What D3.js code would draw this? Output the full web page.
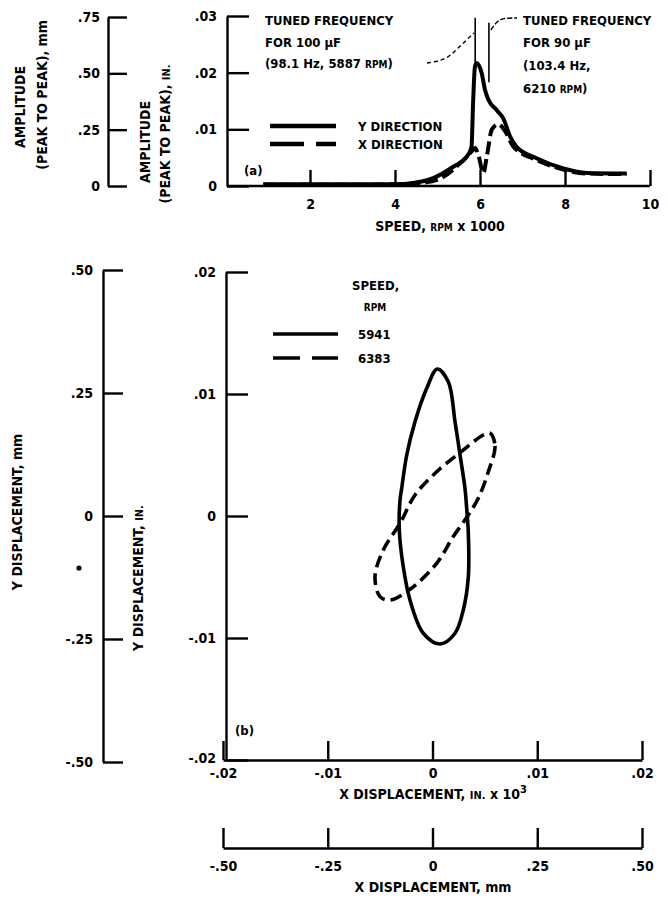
<!DOCTYPE html>
<html><head><meta charset="utf-8">
<script src="https://cdn.jsdelivr.net/npm/d3@7"></script>
<style>
body{margin:0;background:#fff}
svg text{font-family:"DejaVu Sans Condensed","DejaVu Sans",sans-serif;font-weight:bold;fill:#000;font-size:13px}
.axis path,.axis line{stroke:#000;stroke-width:2.4px;fill:none}
.axis text{font-family:"DejaVu Sans Condensed","DejaVu Sans",sans-serif;font-weight:bold;font-size:14px;fill:#000}
svg text.title{font-size:14px}
</style></head><body><svg id="c" width="668" height="899"></svg>
<script>
// ---- (a) amplitude (peak to peak, in.) against speed (rpm x 1000)
const speedY = [0.9, 2.0, 3.0, 4.0, 4.28, 4.90, 5.37, 5.69, 5.80, 5.84, 5.88, 5.92, 6.04, 6.12, 6.20, 6.39, 6.55, 6.71, 6.86, 7.33, 7.96, 8.51, 9.45];
const ampY   = [0.0003, 0.0003, 0.0003, 0.0003, 0.0004, 0.0014, 0.0034, 0.0052, 0.0069, 0.0152, 0.0210, 0.0217, 0.0199, 0.0169, 0.0152, 0.0134, 0.0119, 0.0087, 0.0069, 0.0049, 0.0031, 0.0023, 0.0022];
const speedX = [0.9, 2.0, 3.0, 4.0, 4.59, 5.06, 5.53, 5.84, 5.88, 5.96, 6.08, 6.16, 6.28, 6.43, 6.59, 6.78, 7.33, 7.96, 8.51, 9.45];
const ampX   = [0.0002, 0.0002, 0.0002, 0.0003, 0.0005, 0.0013, 0.0040, 0.0064, 0.0067, 0.0055, 0.0023, 0.0052, 0.0100, 0.0109, 0.0097, 0.0070, 0.0046, 0.0029, 0.0022, 0.0021];
const speedTicks = [2, 4, 6, 8, 10];
const ampInTicks = [0, 0.01, 0.02, 0.03];
const ampMmTicks = [0, 0.25, 0.5, 0.75];
const tunedSpeeds = [5.887, 6.21];
const tunedLineTop = [0.0297, 0.0288];
const tunedLineBottom = [0.0218, 0.0183];

// ---- (b) shaft orbits (in.)
const orbitA_x = [0.00046, 0.00151, 0.00215, 0.00263, 0.00310, 0.00326, 0.00342, 0.00342, 0.00294, 0.00215, 0.00072, -0.00088, -0.00215, -0.00279, -0.00317, -0.00310, -0.00294, -0.00246, -0.00167, -0.00055];
const orbitA_y = [0.01205, 0.01100, 0.00773, 0.00500, 0.00227, 0.00066, -0.00142, -0.00498, -0.00770, -0.00961, -0.01049, -0.00961, -0.00689, -0.00416, -0.00115, 0.00131, 0.00227, 0.00500, 0.00773, 0.01047];
const orbitB_x = [0.00549, 0.00597, 0.00533, 0.00437, 0.00329, 0.00197, 0.00040, -0.00215, -0.00406, -0.00501, -0.00549, -0.00470, -0.00310, -0.00167, 0.00040, 0.00263, 0.00485];
const orbitB_y = [0.00680, 0.00574, 0.00363, 0.00145, -0.00008, -0.00170, -0.00388, -0.00601, -0.00689, -0.00661, -0.00498, -0.00279, -0.00060, 0.00172, 0.00363, 0.00520, 0.00664];
const dispInTicks = [-0.02, -0.01, 0, 0.01, 0.02];
const dispMmTicks = [-0.5, -0.25, 0, 0.25, 0.5];

const svg = d3.select("#c");
// ".01", "-.25", "0" style tick labels
const fmt = d => d === 0 ? "0" : d3.format(".2f")(Math.abs(d)).replace(/^0\./, d < 0 ? "-." : ".");

// ================= panel (a) =================
const xA = d3.scaleLinear().domain([0, 10]).range([225, 650]);
const yA = d3.scaleLinear().domain([0, 0.03]).range([186, 16]);
const yAmm = d3.scaleLinear().domain([0, 0.75]).range([186, 17]);

// inch amplitude axis: ticks inside, labels outside
svg.append("g").attr("class", "axis").attr("transform", "translate(227,0)")
  .call(d3.axisRight(yA).tickValues(ampInTicks).tickSizeInner(22).tickSizeOuter(0).tickFormat(""));
svg.append("g").attr("class", "axis").attr("transform", "translate(227,0)")
  .call(d3.axisLeft(yA).tickValues(ampInTicks).tickSize(0).tickPadding(10).tickFormat(fmt))
  .call(g => g.select(".domain").remove());
// mm amplitude axis
svg.append("g").attr("class", "axis").attr("transform", "translate(108,0)")
  .call(d3.axisRight(yAmm).tickValues(ampMmTicks).tickSizeInner(19).tickSizeOuter(0).tickFormat(""));
svg.append("g").attr("class", "axis").attr("transform", "translate(108,0)")
  .call(d3.axisLeft(yAmm).tickValues(ampMmTicks).tickSize(0).tickPadding(8).tickFormat(fmt))
  .call(g => g.select(".domain").remove());
// speed axis
svg.append("g").attr("class", "axis").attr("transform", "translate(0,186)")
  .call(d3.axisBottom(xA).tickValues(speedTicks).tickSizeInner(-16).tickSizeOuter(0).tickPadding(13).tickFormat(d3.format("d")))
  .call(g => g.select(".domain").attr("d", `M227,0H${xA(10)}`));

const lineA = d3.line().x(d => xA(d[0])).y(d => yA(d[1])).curve(d3.curveMonotoneX);
svg.append("path").datum(d3.zip(speedY, ampY)).attr("d", lineA)
  .attr("fill", "none").attr("stroke", "#000").attr("stroke-width", 4).attr("stroke-linejoin", "round");
svg.append("path").datum(d3.zip(speedX, ampX)).attr("d", lineA)
  .attr("fill", "none").attr("stroke", "#000").attr("stroke-width", 4).attr("stroke-dasharray", "13,5");

// tuned-frequency markers
tunedSpeeds.forEach((s, i) => {
  svg.append("line").attr("x1", xA(s)).attr("x2", xA(s))
    .attr("y1", yA(tunedLineTop[i])).attr("y2", yA(tunedLineBottom[i]))
    .attr("stroke", "#000").attr("stroke-width", 1.6);
});
const leader = d3.line().curve(d3.curveBasis);
svg.append("path").attr("d", leader([[427, 63], [446, 60], [458, 48], [474, 33]]))
  .attr("fill", "none").attr("stroke", "#000").attr("stroke-width", 1.4).attr("stroke-dasharray", "4,3");
svg.append("path").attr("d", leader([[xA(6.21) + 2, 30], [496, 22], [503, 18], [517, 18]]))
  .attr("fill", "none").attr("stroke", "#000").attr("stroke-width", 1.4).attr("stroke-dasharray", "5,2");

function label(x, y, parts, anchor, cls) {
  const t = svg.append("text").attr("x", x).attr("y", y).attr("text-anchor", anchor || "start");
  if (cls) t.attr("class", cls);
  parts.forEach(p => {
    const s = t.append("tspan").text(p[0]);
    if (p[1]) s.style("font-size", p[1] + "px");
    if (p[2]) s.attr("baseline-shift", p[2]);
  });
  return t;
}
label(265, 25, [["TUNED FREQUENCY"]]);
label(265, 47, [["FOR 100 μF"]]);
label(265, 68, [["(98.1 Hz, 5887 "], ["RPM", 10], [")"]]);
label(523, 25, [["TUNED FREQUENCY"]]);
label(523, 47, [["FOR 90 μF"]]);
label(523, 70, [["(103.4 Hz,"]]);
label(523, 93, [["6210 "], ["RPM", 10], [")"]]);

// legend (a)
svg.append("line").attr("x1", 270).attr("x2", 336).attr("y1", 126).attr("y2", 126)
  .attr("stroke", "#000").attr("stroke-width", 4.5);
svg.append("line").attr("x1", 270).attr("x2", 336).attr("y1", 144).attr("y2", 144)
  .attr("stroke", "#000").attr("stroke-width", 4.5).attr("stroke-dasharray", "34,12");
label(358, 131, [["Y DIRECTION"]]);
label(358, 149, [["X DIRECTION"]]);
label(244, 175, [["(a)"]]);
label(440, 231, [["SPEED, "], ["RPM", 10], [" x 1000"]], "middle", "title");

function vlabel(x, y, parts) {
  const t = svg.append("text").attr("class", "title")
    .attr("transform", `translate(${x},${y}) rotate(-90)`).attr("text-anchor", "middle");
  parts.forEach(p => {
    const s = t.append("tspan").text(p[0]);
    if (p[1]) s.style("font-size", p[1] + "px");
  });
}
vlabel(25, 107, [["AMPLITUDE"]]);
vlabel(47, 95, [["(PEAK TO PEAK), mm"]]);
vlabel(150, 142, [["AMPLITUDE"]]);
vlabel(170, 134, [["(PEAK TO PEAK), "], ["IN.", 11]]);

// ================= panel (b) =================
const xB = d3.scaleLinear().domain([-0.02, 0.02]).range([223, 642]);
const yB = d3.scaleLinear().domain([-0.02, 0.02]).range([760, 272]);
const xBmm = d3.scaleLinear().domain([-0.5, 0.5]).range([223, 642]);
const yBmm = d3.scaleLinear().domain([-0.5, 0.5]).range([762, 270]);

svg.append("g").attr("class", "axis").attr("transform", "translate(226,0)")
  .call(d3.axisRight(yB).tickValues(dispInTicks).tickSizeInner(22).tickSizeOuter(0).tickFormat(""));
svg.append("g").attr("class", "axis").attr("transform", "translate(226,0)")
  .call(d3.axisLeft(yB).tickValues(dispInTicks.slice(1)).tickSize(0).tickPadding(10).tickFormat(fmt))
  .call(g => g.select(".domain").remove());
svg.append("text").attr("x", 216).attr("y", yB(-0.02) + 3).attr("text-anchor", "end")
  .style("font-size", "14px").text(fmt(-0.02));

svg.append("g").attr("class", "axis").attr("transform", "translate(103,0)")
  .call(d3.axisRight(yBmm).tickValues(dispMmTicks).tickSizeInner(20).tickSizeOuter(0).tickFormat(""));
svg.append("g").attr("class", "axis").attr("transform", "translate(103,0)")
  .call(d3.axisLeft(yBmm).tickValues(dispMmTicks).tickSize(0).tickPadding(10).tickFormat(fmt))
  .call(g => g.select(".domain").remove());

svg.append("g").attr("class", "axis").attr("transform", "translate(0,760)")
  .call(d3.axisBottom(xB).tickValues(dispInTicks).tickSizeInner(-19).tickSizeOuter(0).tickPadding(8).tickFormat(fmt));
svg.append("g").attr("class", "axis").attr("transform", "translate(0,848)")
  .call(d3.axisBottom(xBmm).tickValues(dispMmTicks).tickSizeInner(-20).tickSizeOuter(0).tickPadding(13).tickFormat(fmt));

const lineB = d3.line().x(d => xB(d[0])).y(d => yB(d[1])).curve(d3.curveCatmullRomClosed.alpha(0.5));
svg.append("path").datum(d3.zip(orbitA_x, orbitA_y)).attr("d", lineB)
  .attr("fill", "none").attr("stroke", "#000").attr("stroke-width", 3.6);
svg.append("path").datum(d3.zip(orbitB_x, orbitB_y)).attr("d", lineB)
  .attr("fill", "none").attr("stroke", "#000").attr("stroke-width", 3.6).attr("stroke-dasharray", "12,6");

// legend (b)
label(352, 290, [["SPEED,"]]);
label(375, 311, [["RPM", 10]], "middle");
svg.append("line").attr("x1", 273).attr("x2", 338).attr("y1", 334).attr("y2", 334)
  .attr("stroke", "#000").attr("stroke-width", 3.6);
svg.append("line").attr("x1", 273).attr("x2", 338).attr("y1", 358).attr("y2", 358)
  .attr("stroke", "#000").attr("stroke-width", 3.6).attr("stroke-dasharray", "27,12");
label(358, 339, [["5941"]]);
label(358, 363, [["6383"]]);
label(235, 735, [["(b)"]]);

label(433, 799, [["X DISPLACEMENT, "], ["IN.", 11], [" x 10"], ["3", 11, "super"]], "middle", "title");
label(433, 892, [["X DISPLACEMENT, mm"]], "middle", "title");
vlabel(22, 512, [["Y DISPLACEMENT, mm"]]);
vlabel(143, 578, [["Y DISPLACEMENT, "], ["IN.", 11]]);
svg.append("circle").attr("cx", 79).attr("cy", 568).attr("r", 2.6).attr("fill", "#000");
</script></body></html>
